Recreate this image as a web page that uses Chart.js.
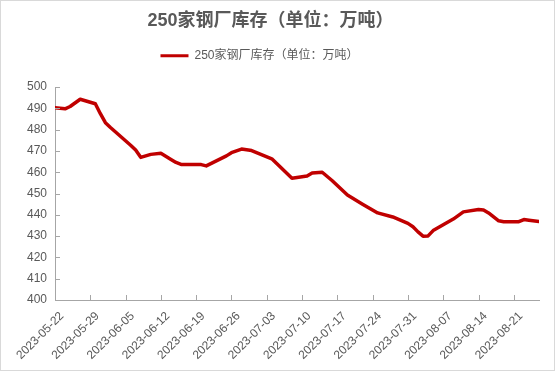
<!DOCTYPE html>
<html>
<head>
<meta charset="utf-8">
<script src="https://cdn.jsdelivr.net/npm/chart.js@4/dist/chart.umd.min.js"></script>
<style>
  html, body { margin: 0; padding: 0; background: #ffffff; }
  canvas { display: block; }
</style>
</head>
<body>
<canvas id="c" width="555" height="371"></canvas>
<script>
// ---- data ----
const seriesName = '250家钢厂库存（单位：万吨）';
const dates = [
  '2023-05-22','2023-05-24','2023-05-25','2023-05-27','2023-05-30','2023-05-31',
  '2023-06-01','2023-06-02','2023-06-06','2023-06-07','2023-06-08','2023-06-10',
  '2023-06-12','2023-06-14','2023-06-15','2023-06-16','2023-06-20','2023-06-21',
  '2023-06-25','2023-06-26','2023-06-28','2023-06-30','2023-07-04','2023-07-08',
  '2023-07-11','2023-07-12','2023-07-14','2023-07-16','2023-07-19','2023-07-22',
  '2023-07-25','2023-07-28','2023-07-31','2023-08-01','2023-08-02','2023-08-03',
  '2023-08-04','2023-08-05','2023-08-09','2023-08-11','2023-08-14','2023-08-15',
  '2023-08-16','2023-08-18','2023-08-19','2023-08-22','2023-08-23','2023-08-24',
  '2023-08-26'
];
const inventory = [
  490.3, 489.8, 490.9, 494.3, 492.2, 487.5,
  483.3, 481.0, 472.7, 470.4, 467.0, 468.4,
  468.9, 466.0, 464.6, 463.7, 463.6, 463.0,
  467.7, 469.2, 470.9, 470.2, 466.3, 457.2,
  458.2, 459.6, 460.0, 456.0, 449.3, 445.0,
  440.9, 439.0, 436.0, 434.4, 432.0, 430.0,
  430.1, 432.6, 438.0, 441.4, 442.5, 442.3,
  440.9, 437.2, 436.8, 436.8, 437.8, 437.5,
  436.9
];
const tickLabels = [
  '2023-05-22','2023-05-29','2023-06-05','2023-06-12','2023-06-19','2023-06-26',
  '2023-07-03','2023-07-10','2023-07-17','2023-07-24','2023-07-31','2023-08-07',
  '2023-08-14','2023-08-21'
];
const yMin = 400, yMax = 500, yStep = 10;

// ---- helpers ----
const DAY = 86400000;
function toUTC(s) { const p = s.split('-').map(Number); return Date.UTC(p[0], p[1] - 1, p[2]); }
const origin = toUTC(dates[0]);
const dayOf = s => Math.round((toUTC(s) - origin) / DAY);
const points = dates.map((d, i) => ({ x: dayOf(d), y: inventory[i] }));
const tickDays = tickLabels.map(dayOf);
const labelByDay = {};
tickLabels.forEach(t => { labelByDay[dayOf(t)] = t; });

const axisColor = '#a6a6a6';
const textColor = '#595959';
const fontFam = "'Liberation Sans', 'Noto Sans CJK SC', sans-serif";

const frameAndTicks = {
  id: 'frameAndTicks',
  beforeDraw(chart) {
    const ctx = chart.ctx;
    ctx.save();
    ctx.fillStyle = '#ffffff';
    ctx.fillRect(0, 0, chart.width, chart.height);
    ctx.strokeStyle = '#d9d9d9';
    ctx.lineWidth = 1;
    ctx.strokeRect(0.5, 0.5, chart.width - 1, chart.height - 1);
    ctx.restore();
  },
  afterLayout(chart) {
    if (chart.titleBlock) { chart.titleBlock.left += 1; chart.titleBlock.right += 1; }
    if (chart.legend) { chart.legend.left -= 10; chart.legend.right -= 10; }
  },
  afterDraw(chart) {
    const ctx = chart.ctx;
    const xs = chart.scales.x, ys = chart.scales.y;
    ctx.save();
    ctx.strokeStyle = axisColor;
    ctx.lineWidth = 1;
    ctx.beginPath();
    xs.ticks.forEach((t, i) => {
      const px = Math.round(xs.getPixelForTick(i)) + 0.5;
      ctx.moveTo(px, xs.top);
      ctx.lineTo(px, xs.top - 5);
    });
    ys.ticks.forEach((t, i) => {
      const py = Math.round(ys.getPixelForTick(i)) + 0.5;
      ctx.moveTo(ys.right, py);
      ctx.lineTo(ys.right + 5, py);
    });
    ctx.stroke();
    ctx.restore();
  }
};

new Chart(document.getElementById('c'), {
  type: 'line',
  data: {
    datasets: [{
      label: seriesName,
      data: points,
      borderColor: '#c00000',
      backgroundColor: '#c00000',
      borderWidth: 3.5,
      pointRadius: 0,
      tension: 0,
      borderJoinStyle: 'round',
      borderCapStyle: 'round',
      fill: false
    }]
  },
  options: {
    responsive: false,
    animation: false,
    devicePixelRatio: 1,
    layout: { padding: { left: 0, right: 16, top: 0, bottom: 0 } },
    plugins: {
      title: {
        display: true,
        text: seriesName,
        color: textColor,
        font: { family: fontFam, size: 18, weight: 'bold', lineHeight: 0.5 },
        padding: { top: 16.5, bottom: 0 }
      },
      subtitle: {
        display: true,
        text: '',
        weight: 500,
        font: { size: 1, lineHeight: 1 },
        padding: { top: 14.3, bottom: 0 }
      },
      legend: {
        display: true,
        position: 'top',
        labels: {
          color: textColor,
          font: { family: fontFam, size: 12 },
          usePointStyle: true,
          pointStyle: 'line',
          pointStyleWidth: 28,
          padding: 24.3,
          generateLabels(chart) {
            const items = Chart.defaults.plugins.legend.labels.generateLabels(chart);
            items.forEach(it => { it.lineWidth = 3; it.pointStyle = 'line'; });
            return items;
          }
        }
      },
      tooltip: { enabled: false }
    },
    scales: {
      x: {
        type: 'linear',
        min: 0,
        max: 96,
        afterBuildTicks(scale) { scale.ticks = tickDays.map(v => ({ value: v })); },
        afterFit(scale) { scale.height = 71; },
        grid: { display: false, drawTicks: false },
        border: { display: true, color: axisColor, width: 1 },
        ticks: {
          autoSkip: false,
          maxRotation: 45,
          minRotation: 45,
          padding: 9,
          labelOffset: 7,
          color: textColor,
          font: { family: fontFam, size: 12 },
          callback: v => labelByDay[v] || ''
        }
      },
      y: {
        min: yMin,
        max: yMax,
        afterFit(scale) { scale.width = 55; },
        grid: { display: false, drawTicks: false },
        border: { display: true, color: axisColor, width: 1 },
        ticks: {
          stepSize: yStep,
          padding: 8,
          color: textColor,
          font: { family: fontFam, size: 12 }
        }
      }
    }
  },
  plugins: [frameAndTicks]
});
</script>
</body>
</html>
